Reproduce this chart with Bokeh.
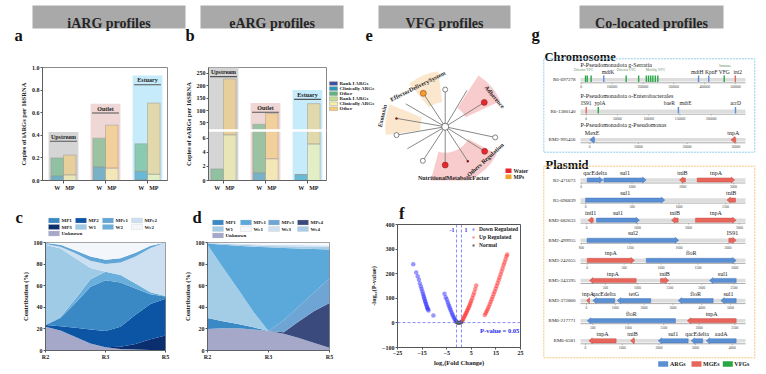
import numpy as np
from bokeh.plotting import figure
from bokeh.models import (Range1d, FixedTicker, Legend, LegendItem,
                          ColumnDataSource, Whisker, TeeHead, Span)
from bokeh.layouts import row, column
from bokeh.embed import file_html
from bokeh.resources import INLINE
from bokeh.core.properties import value

SERIF = "Liberation Serif"
BANNER_GRAY = "#a9a9a9"
INK = "#222222"

# ============================ DATA ============================
banner_titles = ["iARG profiles", "eARG profiles", "VFG profiles", "Co-located profiles"]
panel_letters = ["a", "b", "c", "d", "e", "f", "g"]
groups = ["Upstream", "Outlet", "Estuary"]
sample_types = ["W", "MP"]
arg_classes = ["Rank I ARGs", "Clinically ARGs", "Other"]

# a : iARGs (copies per 16S rRNA) stacked Rank I / Clinically / Other
iarg_w_rank = [0.0, 0.0, 0.006]
iarg_w_clin = [0.04, 0.12, 0.074]
iarg_w_other = [0.16, 0.255, 0.245]
iarg_mp_rank = [0.0, 0.0, 0.0]
iarg_mp_clin = [0.05, 0.11, 0.055]
iarg_mp_other = [0.175, 0.38, 0.63]
iarg_w_err = [0.018, 0.028, 0.022]
iarg_mp_err = [0.02, 0.035, 0.045]
iarg_w_clin_err = [0.004, 0.012, 0.006]
iarg_mp_clin_err = [0.005, 0.008, 0.006]
iarg_box_top = [0.43, 0.68, 0.93]
iarg_yticks = [0.0, 0.2, 0.4, 0.6, 0.8, 1.0]

# b : eARGs (broken axis)
earg_w_rank = [0.0, 0.0, 0.0]
earg_w_clin = [0.0, 1.1, 0.85]
earg_w_other = [1.65, 42.0, 0.0]
earg_mp_rank = [0.0, 0.0, 0.0]
earg_mp_clin = [6.5, 3.1, 5.2]
earg_mp_other = [221.5, 85.0, 123.0]
earg_w_err = [0.12, 1.5, 0.08]
earg_mp_err = [9.0, 6.0, 7.0]
earg_w_clin_err = [0.0, 0.1, 0.05]
earg_mp_clin_err = [0.4, 0.2, 0.3]
earg_box_top = [275, 131, 183]
earg_yticks = [0, 2, 4, 6, 50, 100, 150, 200, 250]

# c / d : source contributions (%), cumulative layer tops read along the x axis
sample_labels = ["R2", "R3", "R5"]
curve_x = [0.0, 0.25, 0.5, 0.75, 1.0, 1.25, 1.5, 1.75, 2.0]
c_layers = ["Unknown", "MP3", "MP2", "MP1", "W2", "W1", "MPe2", "MPe1", "We2"]
c_top_unknown = [22, 18.5, 12.5, 6.5, 3, 1.5, 1, 0.5, 0]
c_top_mp3 = [22, 18.5, 12.5, 6.5, 3, 3.5, 6, 10.5, 14]
c_top_mp2 = [23.5, 22.5, 21, 19.5, 18, 22, 33, 43, 48]
c_top_mp1 = [23.5, 30, 44, 59, 65, 63, 57.5, 52, 50]
c_top_w2 = [23.5, 31, 48, 66, 73, 70, 62, 54, 50.5]
c_top_w1 = [98, 94.5, 85.5, 76.5, 73, 70, 62, 54, 50.5]
c_top_mpe2 = [98.5, 96, 90, 83, 80, 81.5, 87, 95, 100]
c_top_mpe1 = [99.5, 98, 92.5, 87, 84, 85.5, 90.5, 97, 100]
c_top_we2 = [100, 100, 100, 100, 100, 100, 100, 100, 100]
c_legend_order = ["MP1", "MP2", "MPe1", "MPe2", "MP3", "W1", "W2", "We2", "Unknown"]

d_layers = ["Unknown", "MP1", "MPe4", "MPe3", "W1", "MPe1", "We4", "We3", "We1"]
d_top_unknown = [20, 20.5, 20.5, 19.5, 18, 15.5, 11.5, 7, 2.5]
d_top_mp1 = [30, 27, 24.5, 21.5, 18, 15.5, 11.5, 7, 2.5]
d_top_mpe4 = [30, 27, 24.5, 21.5, 18, 17, 27, 36.5, 44]
d_top_mpe3 = [30, 27, 24.5, 21.5, 18, 28, 41, 54, 67]
d_top_w1 = [98, 77, 57, 36, 18, 28, 41, 54, 67]
d_top_mpe1 = [99, 98, 97, 96, 95.5, 95, 94.5, 94, 93.5]
d_top_we4 = [99.5, 98.8, 98.1, 97.4, 96.8, 96.5, 96.3, 96.2, 96]
d_top_we3 = [99.7, 99.3, 98.8, 98.4, 98, 97.8, 97.6, 97.4, 97.2]
d_top_we1 = [100, 100, 100, 100, 100, 100, 100, 100, 100]
d_legend_order = ["MP1", "MPe1", "MPe3", "MPe4", "W1", "We1", "We3", "We4", "Unknown"]

# e : VFG lollipop (angle of each category spoke, relative length, marker class)
vfg_spoke_angle = [90, 116, 142, 167, 193, 218, 244, 270, 296, 320, 344, 40, 66]
vfg_spoke_len = [1.0, 1.0, 1.0, 1.0, 1.0, 0.96, 1.02, 1.03, 1.03, 1.03, 1.04, 1.02, 1.07]
vfg_spoke_kind = ["open", "MPs", "line", "dot", "open", "line", "open",
                  "Water", "dot", "Water", "open", "Water", "line"]
vfg_categories = ["Adherence", "EffectorDeliverySystem", "Exotoxin",
                  "Others Regulation", "NutritionalMetabolicFactor"]
vfg_category_source = ["Water", "MPs", "MPs", "Water"]
vfg_sources = ["Water", "MPs"]

# f : volcano
f_down_x = [-18.6, -17.4, -16.8, -16.3, -15.9, -15.5, -15.2, -14.9, -14.6, -14.4, -14.2,
            -14.0, -13.8, -13.6, -13.4, -13.2, -13.0, -12.8, -12.6, -12.4, -10.4,
            -5.9, -5.4, -5.0, -4.6, -4.3, -4.0, -3.7, -3.4, -3.1, -2.8, -2.5, -2.2,
            -1.9, -1.6, -1.3, -1.1]
f_down_y = [238, 205, 190, 175, 160, 148, 138, 128, 118, 110, 103,
            96, 89, 83, 77, 71, 65, 60, 55, 50, 30,
            118, 104, 95, 85, 76, 68, 60, 52, 44, 37, 30, 24,
            18, 13, 8, 5]
f_up_x = [1.1, 1.4, 1.7, 2.0, 2.3, 2.6, 2.9, 3.2, 3.5, 3.8, 4.1, 4.4, 4.7, 5.0, 5.4,
          5.8, 6.2, 6.6, 7.0,
          10.5, 10.9, 11.3, 11.7, 12.1, 12.5, 12.9, 13.3, 13.7, 14.1, 14.5, 14.9,
          15.3, 15.7, 16.1, 16.5, 16.9, 17.3, 17.7, 18.1, 18.5, 18.9, 19.3, 19.6]
f_up_y = [5, 10, 16, 22, 28, 34, 40, 46, 53, 60, 67, 74, 82, 90, 100,
          112, 124, 138, 152,
          32, 40, 48, 57, 66, 76, 86, 96, 106, 117, 128, 139,
          150, 161, 173, 185, 197, 209, 221, 234, 246, 258, 270, 278]
f_norm_x = [-0.9, -0.6, -0.3, 0.0, 0.3, 0.6, 0.9]
f_norm_y = [2.5, 1.5, 0.8, 0.5, 0.8, 1.5, 2.5]
f_xticks = [-25, -15, -5, 5, 15, 25]
f_yticks = [-100, 0, 100, 200, 300, 400]
fc_cut = [-1, 1]
p_cut = 0.05
f_classes = ["Down Regulated", "Up Regulated", "Normal"]

# g : co-located genes
gene_types = ["ARGs", "MGEs", "VFGs"]
chrom_ids = ["R6-697278", "R6-1380140", "RM2-995456"]
chrom_taxa = ["P-Pseudomonadota g-Serratia", "P-Pseudomonadota o-Enterobacterales",
              "P-Pseudomonadota g-Pseudomonas"]
chrom_span = [(-2300, 532000), (-9200, 255000), (-1900, 32000)]
chrom_ticks = [[0, 100000, 200000, 300000, 400000, 500000],
               [0, 50000, 100000, 150000, 200000],
               [0, 10000, 20000, 30000]]
chrom1_marks = [(14000, "VFGs"), (19500, "VFGs"), (32000, "VFGs"), (73000, "ARGs"),
                (145600, "VFGs"), (186000, "VFGs"), (211000, "VFGs"), (218000, "VFGs"),
                (225000, "VFGs"), (232000, "VFGs"), (240000, "VFGs"), (248000, "VFGs"),
                (380000, "ARGs"), (413000, "ARGs"), (463000, "VFGs"), (499000, "MGEs")]
chrom1_labels = [("Effector VFG", 8000, "group"), ("mdtK", 87000, "gene"),
                 ("Effector VFG", 146000, "group"), ("Motility VFG", 240000, "group"),
                 ("mdtH", 376000, "gene"), ("KpnF", 421000, "gene"),
                 ("Immune", 466000, "group_hi"), ("VFG", 463000, "gene"), ("int2", 507000, "gene")]
chrom2_marks = [(0, "MGEs"), (19300, "VFGs"), (147600, "ARGs"), (239000, "ARGs")]
chrom2_labels = [("IS91", 0, "gene"), ("yplA", 22000, "gene"), ("baeR", 133000, "gene"),
                 ("mdtE", 159000, "gene"), ("acrD", 239000, "gene")]
chrom3_genes = [("MexE", 0, 1000, -1, "ARGs"), ("tnpA", 29000, 30000, -1, "MGEs")]

plasmid_ids = ["R2-471673", "R5-696839", "RM2-682633", "RM2-499955", "RM3-242055",
               "RM5-243395", "RM3-372860", "RM6-217771", "RM6-6581"]
plasmid_span = [(-14, 3234), (-54, 1713), (-118, 3118), (792, 2144), (-91, 2145),
                (111, 2681), (-208, 5521), (327, 2651), (-136, 4360)]
plasmid_ticks = [[0, 1000, 2000, 3000], [0, 500, 1000, 1500], [0, 1000, 2000, 3000],
                 [800, 1200, 1600, 2000], [0, 500, 1000, 1500, 2000],
                 [500, 1000, 1500, 2000, 2500], [0, 1000, 2000, 3000, 4000, 5000],
                 [500, 1000, 1500, 2000, 2500], [0, 1000, 2000, 3000, 4000]]
genes_R2_471673 = [("qacEdelta", 118, 426, 1, "ARGs"), ("sul1", 446, 1279, 1, "ARGs"),
                   ("tniB", 1934, 2052, -1, "MGEs"), ("tnpA", 2282, 3023, 1, "MGEs")]
genes_R5_696839 = [("sul1", 0, 849, 1, "ARGs"), ("tniB", 1513, 1606, -1, "MGEs")]
genes_RM2_682633 = [("intI1", 33, 131, -1, "MGEs"), ("sul1", 196, 1039, 1, "ARGs"),
                    ("tniB", 1667, 1798, -1, "MGEs"), ("tnpA", 2137, 2935, 1, "MGEs")]
genes_RM2_499955 = [("sul2", 846, 1597, 1, "ARGs"), ("IS91", 2007, 2068, 1, "MGEs")]
genes_RM3_242055 = [("tnpA", 0, 641, 1, "MGEs"), ("floR", 800, 2019, 1, "ARGs")]
genes_RM5_243395 = [("tnpA", 251, 978, -1, "MGEs"), ("tniB", 1357, 1486, 1, "MGEs"),
                    ("sul1", 2120, 2536, -1, "ARGs")]
genes_RM3_372860 = [("tnpA", 0, 104, -1, "MGEs"), ("qacEdelta", 219, 983, -1, "ARGs"),
                    ("tetG", 1066, 2233, -1, "ARGs"), ("floR", 3184, 4399, -1, "ARGs"),
                    ("sul1", 4663, 5198, -1, "ARGs")]
genes_RM6_217771 = [("floR", 421, 1665, -1, "ARGs"), ("tnpA", 1830, 2520, -1, "MGEs")]
genes_RM6_6581 = [("tnpA", 90, 836, -1, "MGEs"), ("tniB", 1226, 1335, -1, "MGEs"),
                  ("sul1", 1981, 2798, -1, "ARGs"), ("qacEdelta", 2880, 3196, -1, "ARGs"),
                  ("aadA", 3288, 4106, -1, "ARGs")]
plasmid_genes = [genes_R2_471673, genes_R5_696839, genes_RM2_682633, genes_RM2_499955,
                 genes_RM3_242055, genes_RM5_243395, genes_RM3_372860, genes_RM6_217771,
                 genes_RM6_6581]

# ============================ STYLE ============================
W_COLS = ["#3b4fa2", "#2a97bd", "#62b47f"]
MP_COLS = ["#bfe08f", "#f5f2a4", "#f4cc76"]
BG_COLS = ["#d5d5d5", "#efd7d5", "#c6ebfa"]
C_COLS = {"Unknown": "#a5a8c9", "MP3": "#0b2e6e", "MP2": "#0c55a5", "MP1": "#3a88c4",
          "W2": "#6aaedb", "W1": "#9fcbe6", "MPe2": "#cde0f1", "MPe1": "#62a6d8", "We2": "#f3f7fc"}
D_COLS = {"Unknown": "#a5a8c9", "MP1": "#3a88c4", "MPe4": "#3b4a7d", "MPe3": "#6ea5d5",
          "W1": "#a3cde7", "MPe1": "#5aa9da", "We4": "#a9cde6", "We3": "#cfe1f1", "We1": "#f5f8fc"}
SRC_COLS = {"Water": "#e8262e", "MPs": "#f3a12a"}
SECT_COLS = {"Water": "#f7c6c6", "MPs": "#fbe4c8"}
GENE_COLS = {"ARGs": "#5b8fd4", "MGEs": "#e8655c", "VFGs": "#28a745"}
GENE_EDGE = {"ARGs": "#3c6db0", "MGEs": "#c2433b", "VFGs": "#1c7d33"}
F_COLS = {"Down Regulated": "#2f2fff", "Up Regulated": "#ff2424", "Normal": "#555555"}

GROUP_X = np.arange(len(groups), dtype=float)
BAR_OFF, BAR_W, BOX_HALF = 0.15, 0.3, 0.355
LETTER_SIZE = "16.5px"


# ============================ HELPERS ============================
def new_fig(w, h, xr, yr, borders=None, axes=True):
    kw = dict(width=w, height=h, x_range=xr, y_range=yr,
              toolbar_location=None, output_backend="svg")
    if not axes:
        kw.update(x_axis_type=None, y_axis_type=None)
    p = figure(**kw)
    if borders is None:
        p.min_border = 0
    else:
        p.min_border_left, p.min_border_right, p.min_border_top, p.min_border_bottom = borders
    p.grid.visible = False
    p.outline_line_color = None
    p.background_fill_color = "white"
    p.border_fill_color = "white"
    return p


def style_axes(p, tick_size="6px", label_size="6.5px"):
    for ax in p.axis:
        ax.major_label_text_font = SERIF
        ax.major_label_text_font_style = "bold"
        ax.major_label_text_font_size = tick_size
        ax.major_label_text_color = INK
        ax.axis_label_text_font = SERIF
        ax.axis_label_text_font_style = "bold"
        ax.axis_label_text_font_size = label_size
        ax.axis_label_text_color = INK
        ax.axis_line_color = "#555555"
        ax.axis_line_width = 0.8
        ax.major_tick_line_color = "#555555"
        ax.major_tick_out = 2
        ax.major_tick_in = 0
        ax.minor_tick_line_color = None
        ax.major_label_standoff = 1
        ax.axis_label_standoff = 2


def txt(p, x, y, text, size, bold=False, align="left", baseline="middle",
        color=INK, angle=0.0, **kw):
    return p.text(x=x, y=y, text=text, text_font=value(SERIF), text_font_size=size,
                  text_font_style="bold" if bold else "normal", text_align=align,
                  text_baseline=baseline, text_color=color, angle=angle, **kw)


def letters(p, xs, ys, chars):
    txt(p, xs, ys, chars, LETTER_SIZE, bold=True, baseline="middle", color="#111111")


def lib_legend(items, location, font="5px", gw=8, gh=5, spacing=1, margin=0):
    return Legend(items=items, location=location, label_text_font=SERIF,
                  label_text_font_style="bold", label_text_font_size=font,
                  label_text_color=INK, glyph_width=int(gw), glyph_height=int(gh),
                  label_height=int(gh), label_standoff=2, spacing=int(spacing), padding=0,
                  margin=int(margin), border_line_color=None, background_fill_alpha=0)


def strip_legend(p, names, colors, col_x, row_y, sw=11, sh=5, font="5px"):
    xs, ys = [], []
    for i in range(len(names)):
        r, c = divmod(i, len(col_x))
        xs.append(col_x[c])
        ys.append(row_y[r])
    xs = np.asarray(xs, float)
    p.rect(x=xs + sw / 2, y=ys, width=sw, height=sh, fill_color=[colors[n] for n in names],
           line_color="#c4c4c4", line_width=0.3)
    txt(p, xs + sw + 2, ys, names, font, bold=True)


def bar_panel(w, h, borders, xr, yr, tf, px_unit, w_layers, mp_layers, w_err, mp_err,
              w_low_err, mp_low_err, box_top, yticks, ylabel):
    p = new_fig(w, h, xr, yr, borders)
    bt = tf(box_top)
    p.quad(left=GROUP_X - BOX_HALF, right=GROUP_X + BOX_HALF, bottom=0, top=bt,
           fill_color=BG_COLS, line_color=None)
    txt(p, GROUP_X, bt - 5.0 / px_unit, groups, "6px", bold=True, align="center")
    ly = bt - 9.3 / px_unit
    p.segment(x0=GROUP_X - 0.32, x1=GROUP_X + 0.32, y0=ly, y1=ly,
              line_color="#555555", line_width=1.1)
    for off, layers, cols, err, lerr in ((-BAR_OFF, w_layers, W_COLS, w_err, w_low_err),
                                         (BAR_OFF, mp_layers, MP_COLS, mp_err, mp_low_err)):
        xs = GROUP_X + off
        bottom = np.zeros(len(groups))
        for vals, col in zip(layers, cols):
            top = bottom + np.asarray(vals, float)
            p.vbar(x=xs, bottom=tf(bottom), top=tf(top), width=BAR_W, fill_color=col,
                   fill_alpha=0.6, line_color="#9a9a9a", line_width=0.5)
            bottom = top
        lower = np.asarray(layers[0], float) + np.asarray(layers[1], float)
        for center, e in ((bottom, err), (lower, lerr)):
            e = np.asarray(e, float)
            keep = e > 0
            src = ColumnDataSource(dict(x=xs[keep], u=tf(center[keep] + e[keep]),
                                        l=tf(np.clip(center[keep] - e[keep], 0, None))))
            p.add_layout(Whisker(source=src, base="x", upper="u", lower="l",
                                 line_color="#8a8a8a", line_width=0.6,
                                 upper_head=TeeHead(size=3, line_color="#8a8a8a", line_width=0.6),
                                 lower_head=TeeHead(size=3, line_color="#8a8a8a", line_width=0.6)))
    bar_x = [round(g + o, 3) for g in GROUP_X for o in (-BAR_OFF, BAR_OFF)]
    p.xaxis.ticker = FixedTicker(ticks=bar_x, minor_ticks=list(GROUP_X))
    p.xaxis.major_label_overrides = {x: sample_types[i % 2] for i, x in enumerate(bar_x)}
    ym = [round(float(v), 4) for v in tf(yticks)]
    p.yaxis.ticker = FixedTicker(ticks=ym)
    p.yaxis.axis_label = ylabel
    style_axes(p)
    p.xaxis.major_tick_out = 0
    p.xaxis.minor_tick_line_color = "#555555"
    p.xaxis.minor_tick_out = 3
    p.xaxis.minor_tick_in = 0
    p.outline_line_color = "#8a8a8a"
    return p, ym


# ============================ TOP HEADER (banners + letters a, b, e) ============================
HEAD_H = 48
head = new_fig(530, HEAD_H, Range1d(0, 530), Range1d(HEAD_H, 0), axes=False)
head.quad(left=[32, 200, 378], right=[185, 343, 510], top=5, bottom=28,
          fill_color=BANNER_GRAY, line_color=None)
txt(head, [108.5, 271.5, 444], [23] * 3, banner_titles[:3], "14px", bold=True,
    align="center", baseline="alphabetic", color="#262626")
letters(head, [14, 185, 365], [35] * 3, [panel_letters[0], panel_letters[1], panel_letters[4]])

# ============================ a ============================
TOP_H = 200 - HEAD_H
ident = lambda v: np.asarray(v, float)
pa, _ = bar_panel(175, TOP_H, (42, 8, 19, 20), Range1d(-0.5, 2.476), Range1d(0, 1.0), ident, 113.0,
                  [iarg_w_rank, iarg_w_clin, iarg_w_other],
                  [iarg_mp_rank, iarg_mp_clin, iarg_mp_other],
                  iarg_w_err, iarg_mp_err, iarg_w_clin_err, iarg_mp_clin_err,
                  iarg_box_top, iarg_yticks, "Copies of iARGs per 16SRNA")
pa.yaxis.major_label_overrides = {round(v, 4): f"{v:.1f}" for v in iarg_yticks}

# ============================ b ============================
BREAK_LO, BREAK_HI = 7.1, 50.0


def ymap(v):
    v = np.asarray(v, float)
    mid = BREAK_LO + (v - BREAK_LO) / (BREAK_HI - BREAK_LO) * 1.08
    high = 8.18 + (v - BREAK_HI) * 0.0352
    return np.where(v <= BREAK_LO, v, np.where(v < BREAK_HI, mid, high))


pb, ym = bar_panel(152, TOP_H, (33, 1, 19, 20), Range1d(-0.357, 2.452), Range1d(0, 16.07), ymap, 7.03,
                   [earg_w_rank, earg_w_clin, earg_w_other],
                   [earg_mp_rank, earg_mp_clin, earg_mp_other],
                   earg_w_err, earg_mp_err, earg_w_clin_err, earg_mp_clin_err,
                   earg_box_top, earg_yticks, "Copies of eARGs per 16SRNA")
pb.yaxis.major_label_overrides = {m: str(v) for m, v in zip(ym, earg_yticks)}
pb.quad(left=[-0.357], right=[2.452], bottom=[BREAK_LO - 0.15], top=[BREAK_LO + 0.2],
        fill_color="white", line_color=None)

# b legend (beside the frame)
pbl = new_fig(50, TOP_H, Range1d(327, 377), Range1d(200, HEAD_H), axes=False)
bl_y = [69.5 + 6.8 * i for i in range(2 * len(arg_classes))]
pbl.rect(x=[333] * len(bl_y), y=bl_y, width=8, height=5, fill_color=W_COLS + MP_COLS,
         line_color="#888888", line_width=0.4)
txt(pbl, [339] * len(bl_y), bl_y, arg_classes + arg_classes, "5px", bold=True)

# ============================ e ============================
E_CY = 127.7
pe = new_fig(153, TOP_H, Range1d(-1.354, 1.706),
             Range1d(-(200 - E_CY) / 50.0, (E_CY - HEAD_H) / 50.0), axes=False)
E_SECT = [(25, 57, 0.45, 1.22), (97, 130, 0.5, 1.12), (158, 188, 0.5, 1.2), (255, 332, 0.52, 1.17)]
pe.annular_wedge(x=0, y=0,
                 inner_radius=[s[2] for s in E_SECT], outer_radius=[s[3] for s in E_SECT],
                 start_angle=np.deg2rad([s[0] for s in E_SECT]),
                 end_angle=np.deg2rad([s[1] for s in E_SECT]),
                 fill_color=[SECT_COLS[s] for s in vfg_category_source],
                 fill_alpha=0.9, line_color=None)
ang = np.deg2rad(vfg_spoke_angle)
ex = np.asarray(vfg_spoke_len) * np.cos(ang)
ey = np.asarray(vfg_spoke_len) * np.sin(ang)
pe.segment(x0=0, y0=0, x1=ex, y1=ey, line_color="#7a7a7a", line_width=0.9)
kinds = np.array(vfg_spoke_kind)
m = kinds == "open"
pe.scatter(ex[m], ey[m], size=5, fill_color="white", line_color="#666666", line_width=0.8)
m = kinds == "dot"
pe.scatter(ex[m], ey[m], size=2.5, fill_color="#7a1a1a", line_color=None)
for src in vfg_sources:
    m = kinds == src
    pe.scatter(ex[m], ey[m], size=6, fill_color=SRC_COLS[src], line_color="#7a2020",
               line_width=0.5)
pe.scatter([0], [0], size=7, fill_color="white", line_color="#666666", line_width=0.9)
E_LAB = [(1.27, 39, -50), (1.22, 116.6, 26.6), (1.29, 167, 77), (1.2, 312, 42), (1.38, 277, 0)]
lr = np.array([l[0] for l in E_LAB])
la = np.deg2rad([l[1] for l in E_LAB])
txt(pe, lr * np.cos(la), lr * np.sin(la), vfg_categories, "6px", bold=True, align="center",
    angle=np.deg2rad([l[2] for l in E_LAB]))
EL_X, EL_Y = 1.266, [-1.186, -1.346]
pe.rect(x=[EL_X] * 2, y=EL_Y, width=0.12, height=0.12,
        fill_color=[SRC_COLS[s] for s in vfg_sources], line_color=None)
txt(pe, [EL_X + 0.1] * 2, EL_Y, vfg_sources, "5.5px", bold=True)


# ============================ c / d ============================
def area_panel(w, h, borders, layer_names, tops, colors):
    p = new_fig(w, h, Range1d(0, 2), Range1d(0, 100), borders)
    lower = [0.0] * len(curve_x)
    for name, top in zip(layer_names, tops):
        p.varea(x=curve_x, y1=lower, y2=top, fill_color=colors[name])
        lower = top
    p.xaxis.ticker = FixedTicker(ticks=[0, 1, 2])
    p.xaxis.major_label_overrides = {i: s for i, s in enumerate(sample_labels)}
    p.yaxis.ticker = FixedTicker(ticks=[0, 20, 40, 60, 80, 100])
    p.yaxis.axis_label = "Contribution (%)"
    style_axes(p)
    p.outline_line_color = "#8a8a8a"
    return p


strip_cd = new_fig(365, 39, Range1d(0, 365), Range1d(239, 200), axes=False)
letters(strip_cd, [15, 192], [216.5, 216.5], [panel_letters[2], panel_letters[3]])
strip_legend(strip_cd, c_legend_order, C_COLS, [48, 75, 102, 131], [220, 226.5, 233])
strip_legend(strip_cd, d_legend_order, D_COLS, [212, 240, 268, 297], [222, 228.5, 235])

pc = area_panel(178, 135, (45, 13, 3, 24), c_layers,
                [c_top_unknown, c_top_mp3, c_top_mp2, c_top_mp1, c_top_w2, c_top_w1,
                 c_top_mpe2, c_top_mpe1, c_top_we2], C_COLS)
pd = area_panel(187, 135, (29, 36, 3, 24), d_layers,
                [d_top_unknown, d_top_mp1, d_top_mpe4, d_top_mpe3, d_top_w1, d_top_mpe1,
                 d_top_we4, d_top_we3, d_top_we1], D_COLS)

# ============================ f ============================
strip_f = new_fig(165, 22, Range1d(365, 530), Range1d(222, 200), axes=False)
letters(strip_f, [367], [212.5], [panel_letters[5]])

pf = new_fig(165, 152, Range1d(-25, 25), Range1d(-100, 400), (32, 10, 2, 27))
pf.outline_line_color = "#555555"
for c in fc_cut:
    pf.add_layout(Span(location=c, dimension="height", line_color="#6b6bff",
                       line_dash="3 2", line_width=0.8))
pf.add_layout(Span(location=-np.log10(p_cut), dimension="width", line_color="#6b6bff",
                   line_dash="3 2", line_width=0.8))
f_rend = {}
for cls, xs_, ys_, sz, al in ((f_classes[0], f_down_x, f_down_y, 4.5, 0.5),
                              (f_classes[1], f_up_x, f_up_y, 4.5, 0.5),
                              (f_classes[2], f_norm_x, f_norm_y, 4.0, 0.8)):
    f_rend[cls] = pf.scatter(xs_, ys_, size=sz, fill_color=F_COLS[cls], fill_alpha=al,
                             line_color=None)
pf.add_layout(lib_legend([LegendItem(label=c, renderers=[f_rend[c]]) for c in f_classes],
                         "top_right", font="5.5px", gw=8, gh=6, spacing=2, margin=2))
txt(pf, [-2.8, 2.8], [376, 376], [str(c) for c in fc_cut], "6px", bold=True,
    align="center", color="#3b3bdd")
txt(pf, [24.5], [-32], [f"P-value = {p_cut}"], "6.5px", bold=True, align="right",
    color="#2b2bee")
pf.xaxis.ticker = FixedTicker(ticks=f_xticks)
pf.yaxis.ticker = FixedTicker(ticks=f_yticks)
pf.xaxis.axis_label = "log₂(Fold Change)"
pf.yaxis.axis_label = "-log₁₀(P-value)"
style_axes(pf)
pf.xaxis.axis_label_standoff = 1

# ============================ g ============================
GX0, GX1, GH = 530, 766, 374
TX0, TX1 = 580.0, 745.0
pg = new_fig(GX1 - GX0, GH, Range1d(GX0, GX1), Range1d(GH, 0), axes=False)
pg.quad(left=[579], right=[723], top=[5], bottom=[28], fill_color=BANNER_GRAY, line_color=None)
txt(pg, [651], [23], [banner_titles[3]], "14px", bold=True, align="center",
    baseline="alphabetic", color="#262626")
letters(pg, [531], [34], [panel_letters[6]])
txt(pg, [544], [56.5], ["Chromosome"], "12.5px", bold=True, baseline="alphabetic", color="#111111")
txt(pg, [545], [164.5], ["Plasmid"], "12.5px", bold=True, baseline="alphabetic", color="#111111")
pg.quad(left=[543.3], right=[754.3], top=[58.3], bottom=[151.7], fill_color=None,
        line_color="#8fcdea", line_dash="2 1", line_width=1)
pg.quad(left=[543.3], right=[754.3], top=[165.7], bottom=[357.3], fill_color=None,
        line_color="#f3c57e", line_dash="2 1", line_width=1)

chrom_row_y = [79.3, 110.7, 139.3]
plasmid_row_y = [179.5 + 20.1 * i for i in range(len(plasmid_ids))]

ranges = {}
bpp = {}
all_spans = list(chrom_span) + list(plasmid_span)
for i, (lo, hi) in enumerate(all_spans):
    name = f"t{i}"
    k = (hi - lo) / (TX1 - TX0)
    bpp[name] = k
    ranges[name] = Range1d(lo - (TX0 - GX0) * k, hi + (GX1 - TX1) * k)
pg.extra_x_ranges = ranges


def draw_track(rname, lo, hi, ticks, y, track_id):
    pg.quad(left=[lo], right=[hi], top=[y - 1.8], bottom=[y + 1.8], fill_color="#dddddd",
            line_color=None, x_range_name=rname)
    pg.segment(x0=[lo], x1=[hi], y0=[y + 3], y1=[y + 3], line_color="#8a8a8a",
               line_width=0.7, x_range_name=rname)
    pg.segment(x0=ticks, x1=ticks, y0=y + 3, y1=y + 4.3, line_color="#8a8a8a",
               line_width=0.6, x_range_name=rname)
    txt(pg, ticks, [y + 6.8] * len(ticks), [str(t) for t in ticks], "3.5px", align="center",
        color="#444444", x_range_name=rname)
    txt(pg, [TX0 - 5], [y], [track_id], "5px", align="right")


def draw_arrows(rname, genes, y, body=2.1, head=3.0, head_px=3.5, label_size="6px"):
    k = bpp[rname]
    xs_all, ys_all, fills, edges, mids, names = [], [], [], [], [], []
    for name, s, e, strand, kind in genes:
        hl = min(head_px * k, abs(e - s))
        if strand > 0:
            xs = [s, e - hl, e - hl, e, e - hl, e - hl, s]
        else:
            xs = [e, s + hl, s + hl, s, s + hl, s + hl, e]
        ys = [y - body, y - body, y - head, y, y + head, y + body, y + body]
        xs_all.append(xs)
        ys_all.append(ys)
        fills.append(GENE_COLS[kind])
        edges.append(GENE_EDGE[kind])
        mids.append((s + e) / 2)
        names.append(name)
    pg.patches(xs=xs_all, ys=ys_all, fill_color=fills, line_color=edges, line_width=0.4,
               x_range_name=rname)
    txt(pg, mids, [y - 7] * len(mids), names, label_size, align="center",
        x_range_name=rname)


for i, tid in enumerate(chrom_ids):
    rname = f"t{i}"
    y = chrom_row_y[i]
    lo, hi = chrom_span[i]
    txt(pg, [TX0], [y - 15], [chrom_taxa[i]], "6px")
    draw_track(rname, lo, hi, chrom_ticks[i], y, tid)

for marks, labels, i in ((chrom1_marks, chrom1_labels, 0), (chrom2_marks, chrom2_labels, 1)):
    rname = f"t{i}"
    y = chrom_row_y[i]
    pg.rect(x=[m_[0] for m_ in marks], y=[y - 1] * len(marks), width=1.4, width_units="screen",
            height=6.5, fill_color=[GENE_COLS[m_[1]] for m_ in marks], line_color=None,
            x_range_name=rname)
    for style, size, dy, col in (("gene", "5.5px", -8.3, INK), ("group", "3.5px", -9.6, "#5c8a5c"),
                                 ("group_hi", "3.5px", -14.3, "#5c8a5c")):
        sel = [l for l in labels if l[2] == style]
        if sel:
            txt(pg, [l[1] for l in sel], [y + dy] * len(sel), [l[0] for l in sel], size,
                align="center", color=col, x_range_name=rname)
draw_arrows("t2", chrom3_genes, chrom_row_y[2], body=2.2, head=3.3, head_px=4.0, label_size="6px")

for j, pid in enumerate(plasmid_ids):
    rname = f"t{j + 3}"
    y = plasmid_row_y[j]
    lo, hi = plasmid_span[j]
    draw_track(rname, lo, hi, plasmid_ticks[j], y, pid)
    draw_arrows(rname, plasmid_genes[j], y)

pg.rect(x=[662.7, 696, 727.3], y=[363.5] * 3, width=10, height=5.5,
        fill_color=[GENE_COLS[t] for t in gene_types], line_color=None)
txt(pg, [669.5, 702.5, 733.8], [363.5] * 3, gene_types, "6px", bold=True)

# ============================ LAYOUT ============================
top_block = column(head, row(pa, pb, pbl, pe))
bottom_block = row(column(strip_cd, row(pc, pd)), column(strip_f, pf))
layout = row(column(top_block, bottom_block), pg)
open("out.html", "w").write(file_html(layout, INLINE))
